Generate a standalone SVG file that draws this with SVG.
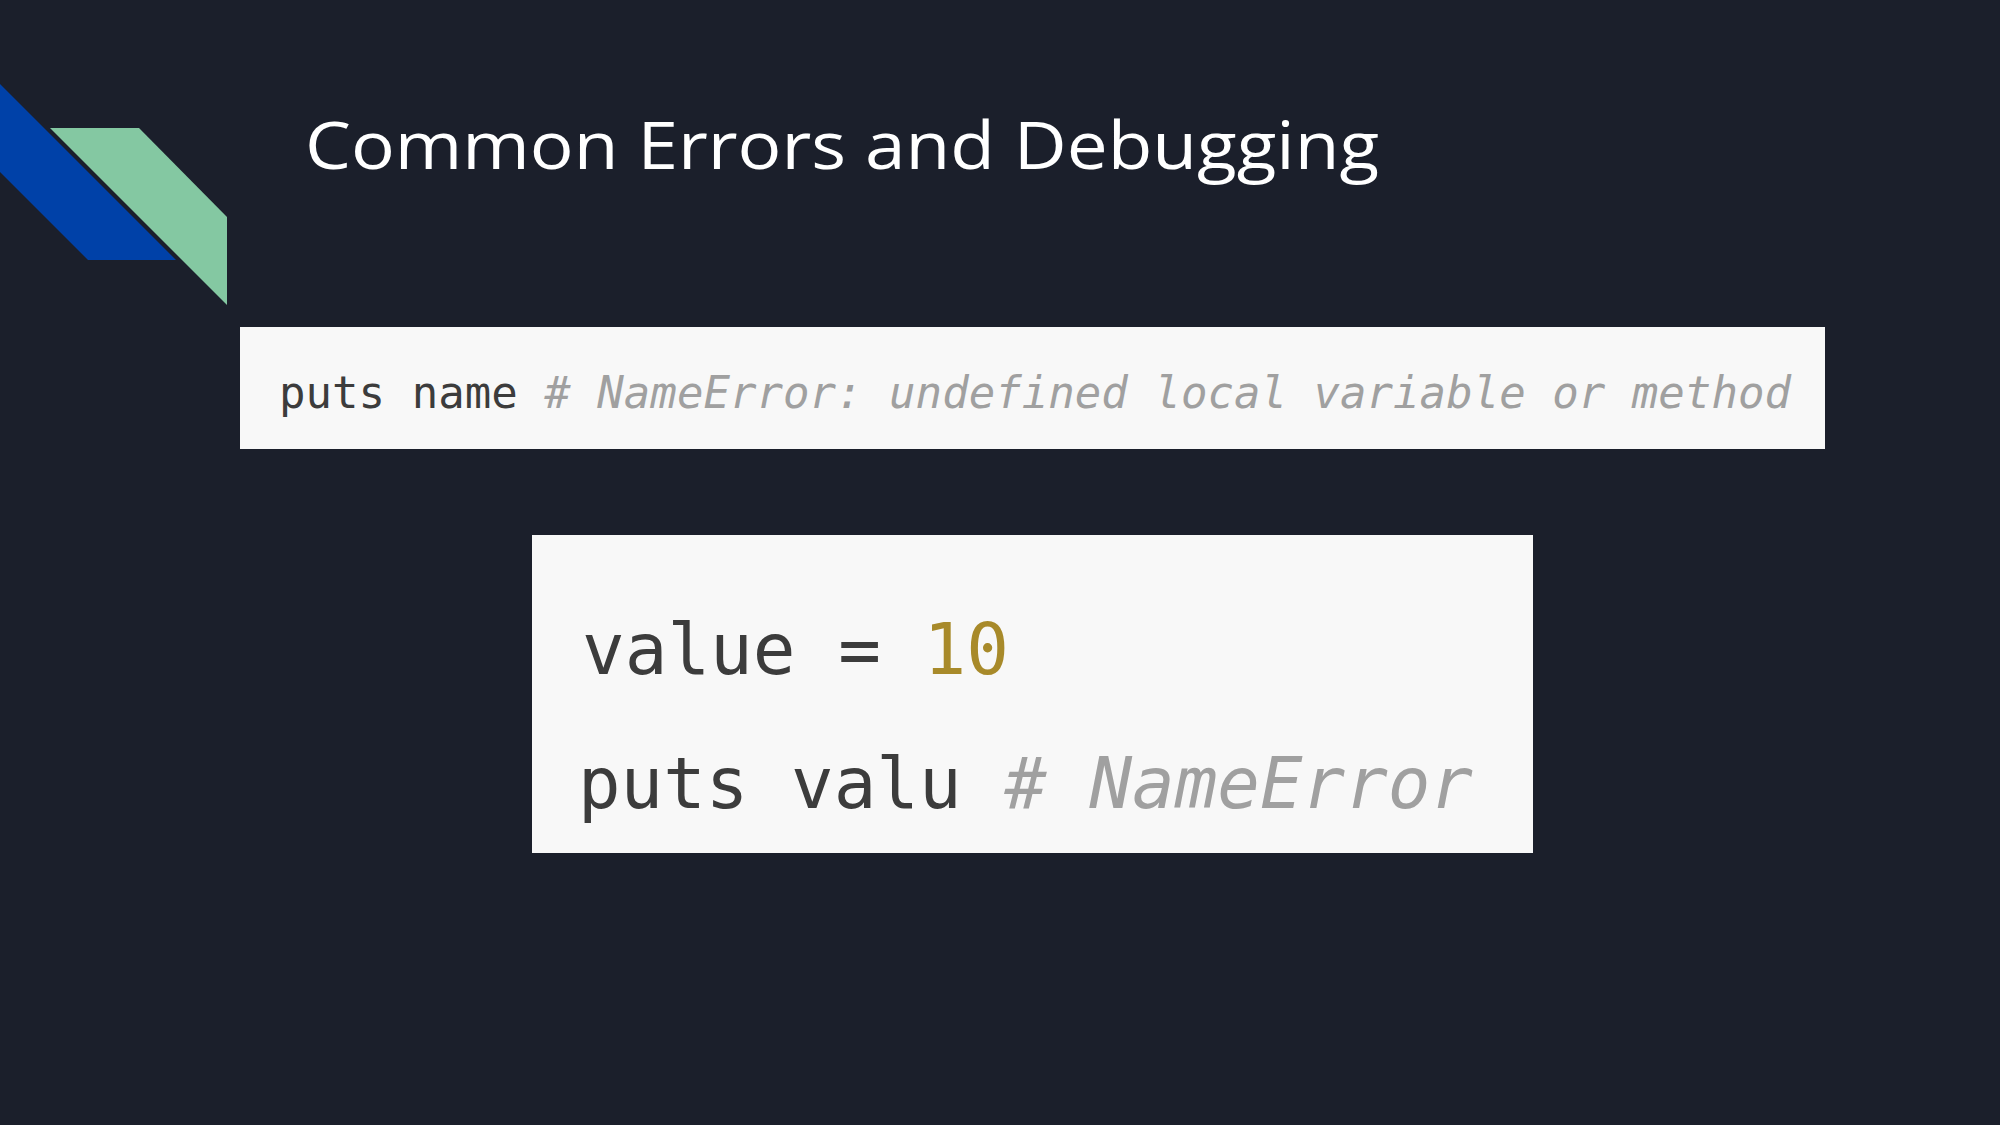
<svg xmlns="http://www.w3.org/2000/svg" width="2000" height="1125" viewBox="0 0 2000 1125">
  <style>
    .title { font-family: "Open Sans", "Liberation Sans", sans-serif; font-size: 66px; fill: #ffffff; }
    .code { font-family: "DejaVu Sans Mono", "Liberation Mono", monospace; }
    .kw { fill: #3c3c3c; }
    .cm { fill: #a0a0a0; font-style: italic; }
    .num { fill: #a88a2a; }
    .box { fill: #f8f8f8; }
  </style>
  <rect x="0" y="0" width="2000" height="1125" fill="#1b1f2b"/>
  <g id="decoration">
    <polygon points="0,84 176,260 88,260 0,172" fill="#0041a8"/>
    <polygon points="50,128 139,128 227,217 227,305" fill="#84c8a2"/>
  </g>
  <g id="title">
    <text class="title" x="305" y="169" textLength="1074" lengthAdjust="spacingAndGlyphs">Common Errors and Debugging</text>
  </g>
  <g id="code1">
    <rect class="box" x="240" y="327" width="1585" height="122"/>
    <text class="code" x="279" y="408" font-size="44" textLength="1512" lengthAdjust="spacingAndGlyphs"><tspan class="kw">puts name </tspan><tspan class="cm"># NameError: undefined local variable or method</tspan></text>
  </g>
  <g id="code2">
    <rect class="box" x="532" y="535" width="1001" height="318"/>
    <text class="code" x="582" y="674" font-size="72" textLength="427" lengthAdjust="spacingAndGlyphs"><tspan class="kw">value = </tspan><tspan class="num">10</tspan></text>
    <text class="code" x="578" y="808" font-size="72" textLength="895" lengthAdjust="spacingAndGlyphs"><tspan class="kw">puts valu </tspan><tspan class="cm"># NameError</tspan></text>
  </g>
  <g id="connectors"/>
</svg>
